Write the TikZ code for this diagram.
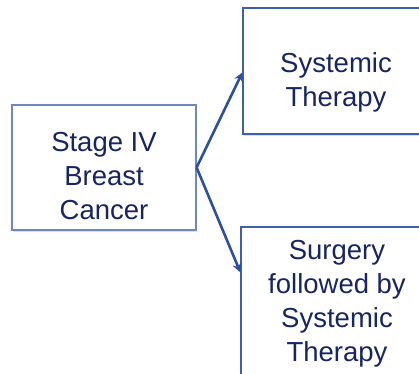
\documentclass[tikz,border=0pt]{standalone}
\usepackage{fontspec}
\setmainfont{Liberation Sans}
\usetikzlibrary{arrows.meta,calc,shadows}
\definecolor{txtnavy}{HTML}{172560}
\definecolor{boxblue}{HTML}{3F5FA8}
\definecolor{boxlight}{HTML}{6F88C0}
\definecolor{arrowblue}{HTML}{2E4F9C}
\tikzset{
  boxnode/.style={draw=#1, line width=1.2pt, fill=white, inner sep=0pt,
    drop shadow={shadow xshift=0.8pt, shadow yshift=-1.5pt, fill=black!25}},
  label/.style={text=txtnavy, align=center, inner sep=0pt,
    font=\fontsize{27.5}{34}\selectfont},
  conn/.style={draw=arrowblue, line width=2.6pt, -{Stealth[length=9pt,width=9pt]}},
}
\begin{document}
\begin{tikzpicture}[x=1pt,y=1pt]
\useasboundingbox (0,0) rectangle (419,-373);
\clip (0,0) rectangle (419,-373);
\fill[white] (0,0) rectangle (419,-373);
\node[boxnode=boxlight, minimum width=184pt, minimum height=125pt] (stage) at (104,-167.5) {};
\node[boxnode=boxblue, minimum width=187pt, minimum height=126pt] (sys) at (336.5,-71) {};
\node[boxnode=boxblue, minimum width=189pt, minimum height=200pt] (surg) at (335.5,-327) {};
\node[label] (stagetxt) at (104,-176) {Stage IV\\Breast\\Cancer};
\node[label] (systxt) at (336,-82) {Systemic\\Therapy};
\node[label] (surgtxt) at (337,-304) {Surgery\\followed by\\Systemic\\Therapy};
\coordinate (sysin) at ($(sys.north west)+(0,-65)$);
\coordinate (surgin) at ($(surg.north west)+(0,-46)$);
\draw[conn] (stage.east) -- (sysin);
\draw[conn] (stage.east) -- (surgin);
\end{tikzpicture}
\end{document}
